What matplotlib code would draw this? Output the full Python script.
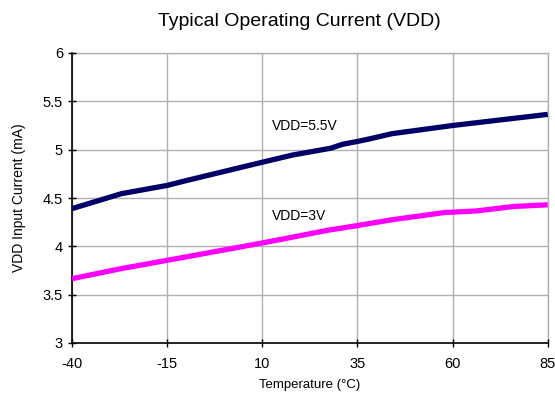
import matplotlib
matplotlib.use("Agg")
import matplotlib.pyplot as plt

# datos
temp_55 = [-40, -27, -15, -10, 10, 18, 28, 31, 35, 38, 44, 60, 85]
curr_55 = [4.39, 4.545, 4.63, 4.68, 4.87, 4.945, 5.015, 5.055, 5.085, 5.11, 5.165, 5.25, 5.365]

temp_3 = [-40, -27, -15, 10, 16, 27, 35, 44, 58, 66, 76, 85]
curr_3 = [3.665, 3.77, 3.855, 4.035, 4.08, 4.165, 4.215, 4.275, 4.35, 4.365, 4.412, 4.43]

x_ticks = [-40, -15, 10, 35, 60, 85]
y_ticks = [3, 3.5, 4, 4.5, 5, 5.5, 6]

plt.rcParams['font.family'] = ['Liberation Sans', 'DejaVu Sans']

fig = plt.figure(figsize=(5.55, 4.0), dpi=100)
ax = fig.add_axes([0.1297, 0.1425, 0.8573, 0.725])

ax.plot(temp_55, curr_55, color='#000066', lw=3.8, solid_capstyle='butt', zorder=3, clip_on=False)
ax.plot(temp_3, curr_3, color='#ff00ff', lw=3.8, solid_capstyle='butt', zorder=3, clip_on=False)

ax.text(12.5, 5.24, 'VDD=5.5V', fontsize=10, va='center', ha='left')
ax.text(12.5, 4.317, 'VDD=3V', fontsize=10, va='center', ha='left')

ax.set_xlim(-40, 85)
ax.set_ylim(3, 6)
ax.set_xticks(x_ticks)
ax.set_xticklabels([str(v) for v in x_ticks])
ax.set_yticks(y_ticks)
ax.set_yticklabels(['3', '3.5', '4', '4.5', '5', '5.5', '6'])
ax.tick_params(direction='inout', length=6, width=1, labelsize=10.5, color='black')
ax.tick_params(axis='x', pad=7)

ax.grid(True, color='#b0b0b0', lw=1.0, zorder=0)
ax.spines['top'].set_visible(False)
ax.spines['right'].set_visible(False)
ax.spines['left'].set_linewidth(1.2)
ax.spines['bottom'].set_linewidth(1.2)
# lineas de rejilla en el borde superior y derecho
ax.axhline(6, color='#b0b0b0', lw=1.0, zorder=0, clip_on=False)
ax.axvline(85, color='#b0b0b0', lw=1.0, zorder=0, clip_on=False)

ax.set_xlabel('Temperature (°C)', fontsize=9.5, labelpad=6)
ax.set_ylabel('VDD Input Current (mA)', fontsize=10, labelpad=12)
fig.text(0.54, 0.945, 'Typical Operating Current (VDD)', fontsize=14, ha='center', va='center')

fig.savefig('out.png', dpi=100)
